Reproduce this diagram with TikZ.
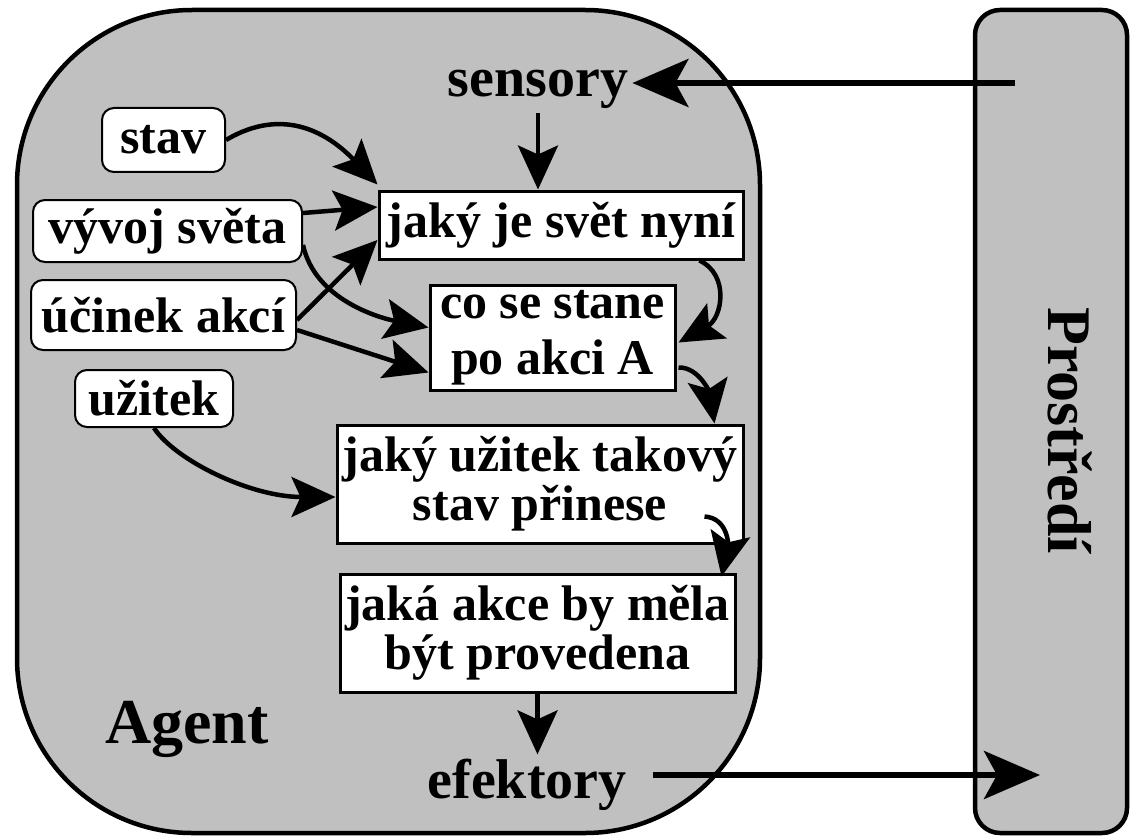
\documentclass[tikz,border=0pt]{standalone}
\usepackage{fontspec}
\setmainfont{Liberation Serif}
\usetikzlibrary{arrows.meta,calc}
\definecolor{agentgray}{RGB}{192,192,192}
\tikzset{
  conn/.style={line width=4.5pt, -{Stealth[length=44pt 0 0,width=40pt 0 0,inset=9pt 0 0]}},
  bigconn/.style={line width=6pt, -{Stealth[length=56pt 0 0,width=48pt 0 0,inset=13pt 0 0]}},
  boxnode/.style={draw, line width=3pt, fill=white, inner sep=0pt, align=center, font=\fontsize{50}{49}\selectfont\bfseries},
  knownode/.style={draw, line width=2pt, fill=white, rounded corners=12pt, inner sep=0pt, font=\fontsize{50}{49}\selectfont\bfseries},
  labelnode/.style={inner sep=4pt, font=\fontsize{56}{56}\selectfont\bfseries},
  panel/.style={draw, line width=4.5pt, fill=agentgray},
}
\begin{document}
\begin{tikzpicture}[x=1pt,y=-1pt]
\useasboundingbox (0,0) rectangle (1131,837);
% environment and agent panels
\draw[panel, rounded corners=25pt] (975,10) rectangle (1127,833);
\draw[panel, rounded corners=175pt] (17,10) rectangle (760,833);
% main boxes
\node[boxnode, minimum width=364pt, minimum height=68pt] (jaky) at (561,225) {jaký je svět nyní};
\node[boxnode, minimum width=245pt, minimum height=105pt, font=\fontsize{50}{56}\selectfont\bfseries] (co) at (552.5,337.5) {co se stane\\po akci A};
\node[boxnode, minimum width=406pt, minimum height=118pt] (uzb) at (540,484) {jaký užitek takový\\stav přinese};
\node[boxnode, minimum width=395pt, minimum height=118pt] (akce) at (537.5,633) {jaká akce by měla\\být provedena};
% knowledge boxes
\node[knownode, minimum width=123pt, minimum height=64pt] (stav) at (163.5,140) {stav};
\node[knownode, minimum width=269pt, minimum height=62pt] (vyvoj) at (167.5,231) {vývoj světa};
\node[knownode, minimum width=265pt, minimum height=70pt] (ucinek) at (163.5,315) {účinek akcí};
\node[knownode, minimum width=158pt, minimum height=57pt] (uzitek) at (154,398.5) {užitek};
% labels
\node[labelnode, anchor=base] (sensory) at (538,97) {sensory};
\node[labelnode, anchor=base] (efektory) at (527,798) {efektory};
\node[font=\fontsize{64}{64}\selectfont\bfseries, anchor=base, inner sep=0pt] (agent) at (187,743) {Agent};
\node[font=\fontsize{62}{62}\selectfont\bfseries, rotate=-90, anchor=base west, inner sep=0pt] (prostredi) at (1048,307) {Prostředí};
% connectors
\draw[conn] (stav.east) .. controls (285,105) and (330,135) .. ($(jaky.north west)+(0,-5)$);
\draw[conn] ($(vyvoj.east)+(0,-18)$) -- ($(jaky.west)+(0,-18)$);
\draw[conn] ($(ucinek.east)+(0,5)$) -- ($(jaky.west)+(0,15)$);
\draw[conn] ($(vyvoj.east)+(0,14)$) .. controls (315,300) and (380,318) .. ($(co.west)+(0,-10)$);
\draw[conn] ($(ucinek.east)+(0,15)$) -- ($(co.west)+(0,35)$);
\draw[conn] (sensory.south) -- (sensory.south |- jaky.north);
\draw[conn] ($(jaky.south east)+(-45,0)$) .. controls (730,275) and (722,318) .. ($(co.east)+(2,5)$);
\draw[conn] ($(co.east)+(2,30)$) .. controls (700,367) and (710,395) .. ($(uzb.north east)+(-30,0)$);
\draw[conn] (uzitek.south) .. controls (175,460) and (250,497) .. ($(uzb.west)+(0,13)$);
\draw[conn] ($(uzb.south east)+(-40,-28)$) .. controls (728,518) and (728,545) .. ($(akce.north east)+(-15,4)$);
\draw[conn] (akce.south) -- (akce.south |- efektory.north);
\coordinate (pin) at (1015,83);
\coordinate (pout) at (1040,775);
\draw[bigconn] (pin) -- (sensory.east |- pin);
\draw[bigconn, shorten <=22pt] (efektory.east |- pout) -- (pout);
\end{tikzpicture}
\end{document}
